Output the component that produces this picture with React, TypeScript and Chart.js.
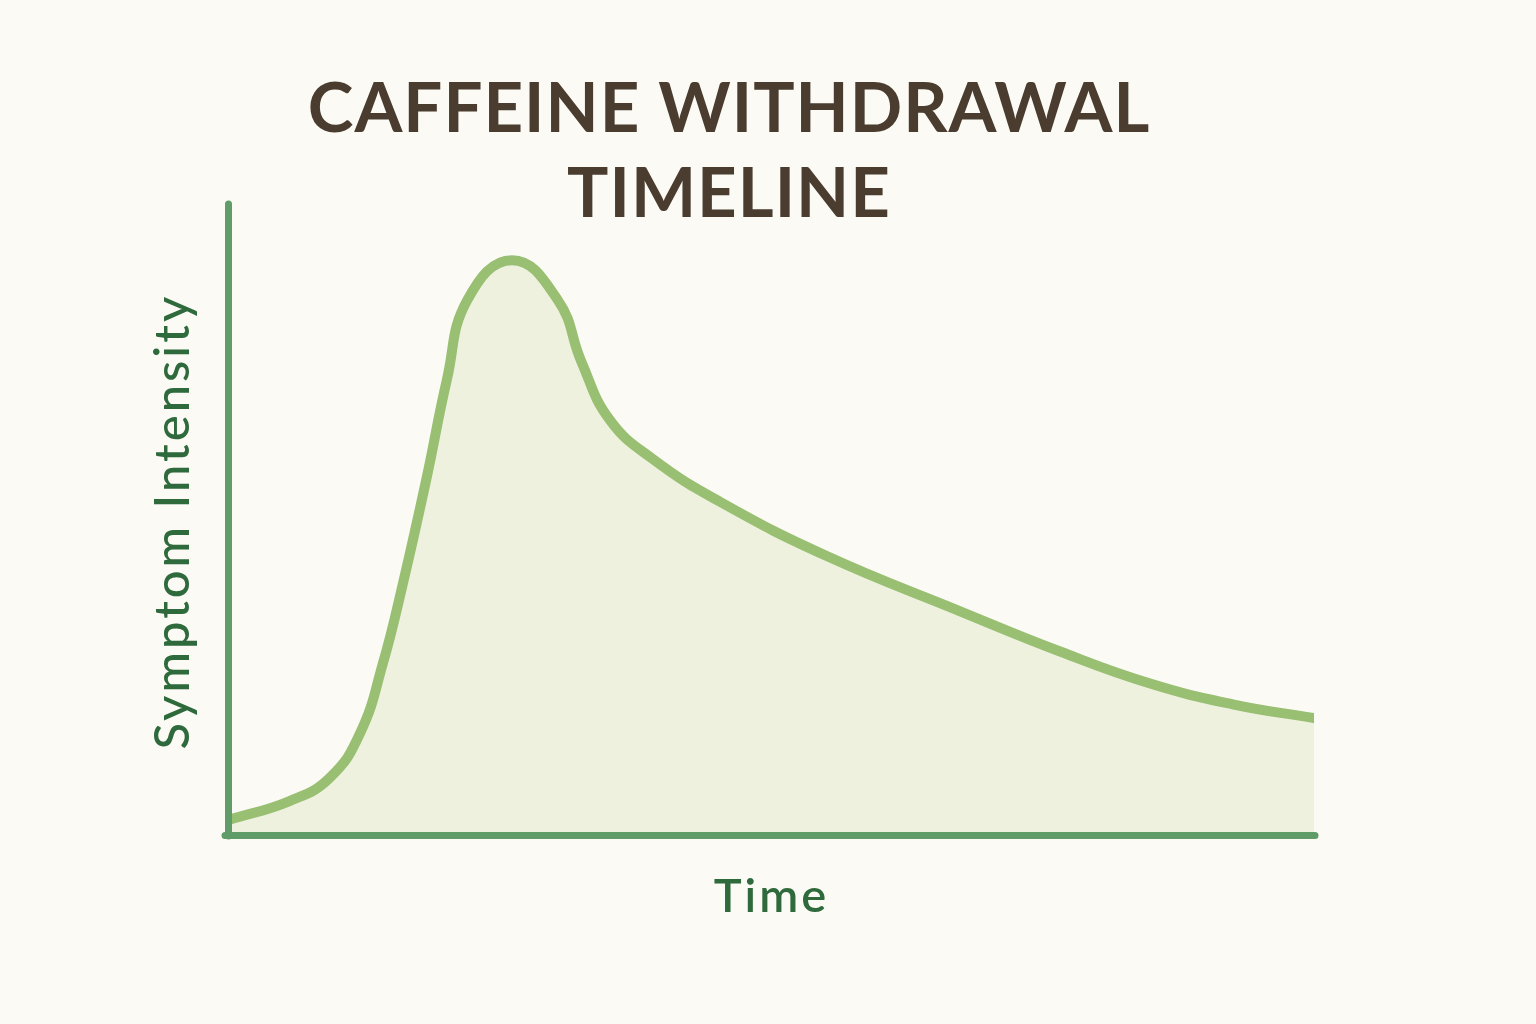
import React, { useEffect, useRef } from 'react';
import { Chart, registerables } from 'chart.js';

Chart.register(...registerables);

// time since last cup (arbitrary units) and how bad the symptoms feel (0-100)
const timePoints = [0, 5.6, 9.3, 12.1, 14.2, 16.0, 18.2, 20.1, 22.0, 26.1, 30.3, 32.5, 35.1, 39.1, 45.3, 55.1, 67.4, 76.6, 84.9, 92.5, 100];
const intensity = [2.5, 5.5, 9.2, 16.3, 27.4, 39.8, 56.7, 72.6, 85.3, 91.6, 85.3, 75.4, 66.2, 59.9, 53.1, 44.5, 35.7, 29.3, 24.2, 20.9, 18.7];
const titleLines = ['CAFFEINE WITHDRAWAL', 'TIMELINE'];

const BG = '#fbfaf4';
const AXIS = '#5f9c68';
const LABEL = '#2f6a3d';

// letter spacing: chart title is drawn before the datasets, the axis layers (z: 1) after
const stylePlugin = {
  id: 'stylePlugin',
  beforeDraw: (chart: any) => {
    chart.ctx.letterSpacing = '1px';
    chart.ctx.lineCap = 'round';
  },
  afterDatasetsDraw: (chart: any) => {
    chart.ctx.letterSpacing = '3px';
    chart.ctx.lineCap = 'round';
  },
};

const WithdrawalChart = () => {
  const canvasRef: any = useRef<HTMLCanvasElement>(null);

  useEffect(() => {
    const ctx: any = canvasRef.current && canvasRef.current.getContext('2d');

    const config: any = {
      type: 'line',
      data: {
        datasets: [
          {
            label: 'Symptoms',
            data: timePoints.map((t, i) => ({ x: t, y: intensity[i] })),
            borderColor: '#98bf72',
            backgroundColor: '#eef1de',
            borderWidth: 10,
            borderCapStyle: 'round',
            borderJoinStyle: 'round',
            fill: 'origin',
            pointRadius: 0,
            tension: 0.45,
          },
        ],
      },
      options: {
        animation: false,
        responsive: true,
        maintainAspectRatio: false,
        layout: {
          autoPadding: false,
          padding: { left: 144, right: 153, top: 0, bottom: 99 },
        },
        plugins: {
          legend: { display: false },
          tooltip: { enabled: false },
          title: {
            display: true,
            text: titleLines,
            color: '#4a3d2f',
            font: { family: 'Lato', size: 69, weight: '700', lineHeight: 1.22 },
            padding: { top: 68, bottom: -29 },
          },
        },
        scales: {
          x: {
            type: 'linear',
            min: 0,
            max: 100,
            ticks: { display: false },
            grid: { display: true, drawOnChartArea: false, drawTicks: false, z: 1 },
            border: { display: true, color: AXIS, width: 7, z: 1 },
            title: {
              display: true,
              text: 'Time',
              color: LABEL,
              font: { family: 'Lato', size: 47, weight: '600', lineHeight: 1.2 },
              padding: { top: 33, bottom: 0 },
            },
          },
          y: {
            type: 'linear',
            min: 0,
            max: 100,
            ticks: { display: false },
            grid: { display: true, drawOnChartArea: false, drawTicks: false, z: 1 },
            border: { display: true, color: AXIS, width: 7, z: 1 },
            title: {
              display: true,
              text: 'Symptom Intensity',
              color: LABEL,
              font: { family: 'Lato', size: 49, weight: '500', lineHeight: 1.2 },
              padding: { top: 0, bottom: 26 },
            },
          },
        },
      },
      plugins: [stylePlugin],
    };

    const chart = new Chart(ctx, config);

    return () => {
      chart.destroy();
    };
  }, []);

  return (
    <div style={{ position: 'absolute', left: 0, top: 0, width: '1536px', height: '1024px', background: BG }}>
      <div style={{ position: 'relative', width: '1467px', height: '1024px' }}>
        <canvas ref={canvasRef}></canvas>
      </div>
    </div>
  );
};

export default function App() {
  return <WithdrawalChart />;
}
